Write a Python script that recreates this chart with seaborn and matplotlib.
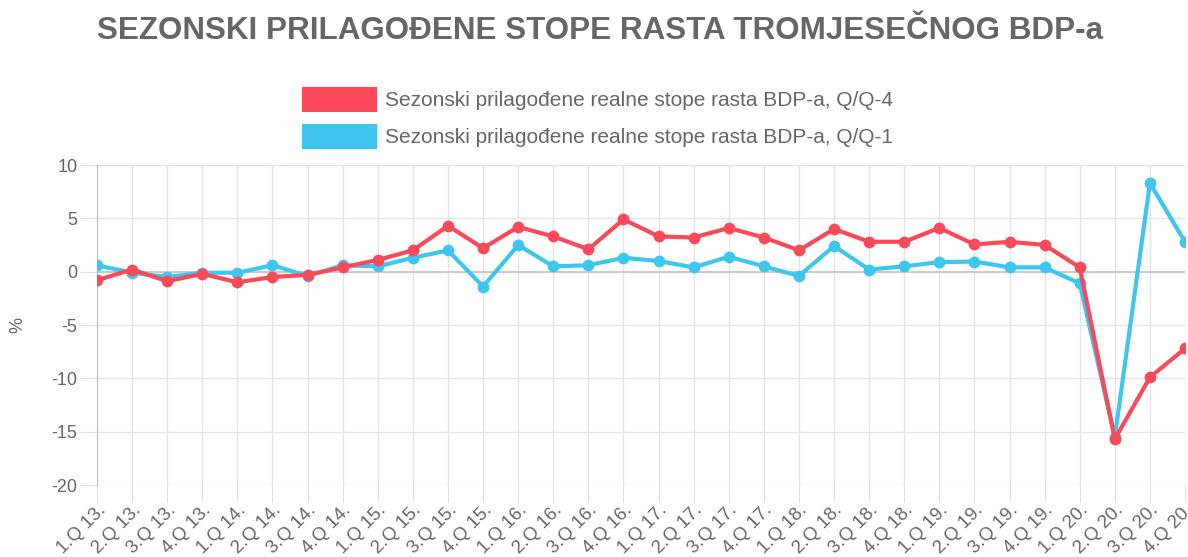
import numpy as np
import pandas as pd
import matplotlib
matplotlib.use("Agg")
import matplotlib.pyplot as plt
import seaborn as sns
from matplotlib.patches import Patch

# quarters 1.Q 13. ... 4.Q 20.
quarters = [f"{q}.Q {y}." for y in range(13, 21) for q in range(1, 5)]

# Q/Q-4 (red)
yoy = [-0.8, 0.2, -0.9, -0.2, -1.0, -0.5, -0.3, 0.4,
       1.1, 2.0, 4.3, 2.2, 4.2, 3.3, 2.1, 4.9,
       3.3, 3.2, 4.1, 3.2, 2.0, 4.0, 2.8, 2.8,
       4.1, 2.55, 2.8, 2.5, 0.4, -15.7, -9.9, -7.2]
# Q/Q-1 (blue)
qoq = [0.6, -0.1, -0.5, -0.1, -0.1, 0.6, -0.4, 0.6,
       0.5, 1.3, 2.0, -1.4, 2.5, 0.5, 0.6, 1.3,
       1.0, 0.4, 1.4, 0.5, -0.4, 2.4, 0.2, 0.5,
       0.9, 0.95, 0.4, 0.4, -1.1, -15.5, 8.3, 2.8]

label_yoy = "Sezonski prilagođene realne stope rasta BDP-a, Q/Q-4"
label_qoq = "Sezonski prilagođene realne stope rasta BDP-a, Q/Q-1"
RED = "#FA4A59"
BLUE = "#3EC6EF"
TXT = "#666666"

df = pd.DataFrame({"idx": np.arange(len(quarters)), "yoy": yoy, "qoq": qoq})

plt.rcParams["font.family"] = ["Liberation Sans", "DejaVu Sans"]
plt.rcParams["axes.unicode_minus"] = False

fig = plt.figure(figsize=(11.88, 5.57), dpi=100)
ax = fig.add_axes([97 / 1188, 1 - 485 / 557, (1185 - 97) / 1188, (485 - 165) / 557])

sns.lineplot(data=df, x="idx", y="qoq", color=BLUE, lw=3.0, marker="o",
             markersize=8.5, markeredgewidth=0, ax=ax, zorder=3)
sns.lineplot(data=df, x="idx", y="yoy", color=RED, lw=3.0, marker="o",
             markersize=8.5, markeredgewidth=0, ax=ax, zorder=4)

ax.set_xlim(0, len(quarters) - 1)
ax.set_ylim(-20, 10)
ax.set_yticks(np.arange(-20, 11, 5))
ax.set_xticks(df["idx"])
ax.set_xticklabels(quarters, rotation=45, ha="right", va="top",
                   rotation_mode="anchor")
ax.grid(True, color="#e5e5e5", lw=1)
ax.set_axisbelow(True)
ax.axhline(0, color="#c4c4c4", lw=1.2, zorder=1)
for s in ["top", "right", "bottom"]:
    ax.spines[s].set_visible(False)
ax.spines["left"].set_color("#bdbdbd")
ax.tick_params(axis="both", colors="#e0e0e0", length=12, labelcolor=TXT,
               labelsize=13, pad=2)
ax.tick_params(axis="x", labelsize=13.5, pad=0)
ax.set_xlabel("")
ax.set_ylabel("%", color=TXT, fontsize=13, labelpad=18)

fig.suptitle("SEZONSKI PRILAGOĐENE STOPE RASTA TROMJESEČNOG BDP-a",
             x=0.505, y=0.944, va="center", fontsize=22.6, fontweight="bold",
             color="#666666")

handles = [Patch(facecolor=RED, edgecolor="none", label=label_yoy),
           Patch(facecolor=BLUE, edgecolor="none", label=label_qoq)]
fig.legend(handles=handles, loc="upper center", bbox_to_anchor=(0.503, 0.878),
           frameon=False, fontsize=15, handlelength=3.6, handleheight=1.5,
           labelspacing=0.55, handletextpad=0.35, labelcolor=TXT)

fig.savefig("out.png", dpi=100)
